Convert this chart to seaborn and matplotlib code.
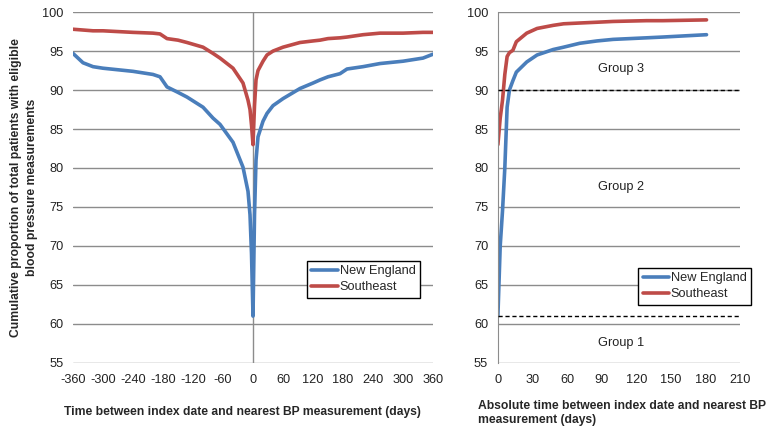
import pandas as pd
import matplotlib.pyplot as plt
import seaborn as sns

# Left panel: signed days vs cumulative proportion
signed_days = [-360, -340, -320, -300, -240, -200, -186, -172, -150, -132, -100, -80,
               -66, -40, -20, -10, -6, -3, 0, 3, 6, 10, 20, 28, 40, 60, 94, 120, 134,
               150, 174, 188, 220, 254, 300, 340, 360]
ne_signed = [94.7, 93.5, 93.0, 92.8, 92.4, 92.0, 91.7, 90.4, 89.7, 89.1, 87.8, 86.4,
             85.6, 83.3, 80.1, 77.0, 74.0, 69.0, 61.0, 74.0, 81.0, 84.0, 86.0, 87.0,
             88.0, 88.9, 90.2, 90.9, 91.3, 91.7, 92.1, 92.7, 93.0, 93.4, 93.7, 94.1, 94.6]
se_signed = [97.8, 97.7, 97.6, 97.6, 97.4, 97.3, 97.2, 96.6, 96.4, 96.1, 95.5, 94.7,
             94.1, 92.8, 90.9, 88.7, 87.5, 85.5, 83.0, 88.0, 91.3, 92.5, 93.7, 94.5,
             95.0, 95.5, 96.1, 96.3, 96.4, 96.6, 96.7, 96.8, 97.1, 97.3, 97.3, 97.4, 97.4]

# Right panel: absolute days vs cumulative proportion
abs_days = [0, 2, 4, 6, 8, 10, 13, 16, 25, 34, 48, 57, 71, 86, 100, 129, 143, 181]
ne_abs = [61.0, 70.0, 74.5, 80.0, 87.8, 90.0, 91.2, 92.3, 93.6, 94.5, 95.2, 95.5,
          96.0, 96.3, 96.5, 96.7, 96.8, 97.1]
se_abs = [83.0, 86.4, 88.7, 92.0, 94.3, 94.8, 95.1, 96.2, 97.3, 97.9, 98.3, 98.5,
          98.6, 98.7, 98.8, 98.9, 98.9, 99.0]

regions = ["New England", "Southeast"]
colors = {"New England": "#4a7ebb", "Southeast": "#be4b48"}

group_cutoffs = [90, 61]
group_labels = ["Group 3", "Group 2", "Group 1"]
group_label_y = [92.7, 77.6, 57.6]

left_df = pd.concat([
    pd.DataFrame({"days": signed_days, "pct": ne_signed, "Region": regions[0]}),
    pd.DataFrame({"days": signed_days, "pct": se_signed, "Region": regions[1]}),
])
right_df = pd.concat([
    pd.DataFrame({"days": abs_days, "pct": ne_abs, "Region": regions[0]}),
    pd.DataFrame({"days": abs_days, "pct": se_abs, "Region": regions[1]}),
])

sns.set_style("white")
plt.rcParams["font.family"] = ["Liberation Sans", "DejaVu Sans"]
plt.rcParams["axes.unicode_minus"] = False

fig = plt.figure(figsize=(7.66, 4.32), dpi=100)
ax1 = fig.add_axes([0.0953, 0.160, 0.470, 0.812])
ax2 = fig.add_axes([0.650, 0.160, 0.316, 0.812])

grid_col = "#8c8c8c"
txt_col = "#222222"
leg_kw = dict(loc="upper left", frameon=True, fancybox=False, edgecolor="black",
              fontsize=9.2, handlelength=2.1, handletextpad=0.1, borderpad=0.35,
              labelspacing=0.3, borderaxespad=0)

# ---- Left panel ----
sns.lineplot(data=left_df, x="days", y="pct", hue="Region", palette=colors,
             linewidth=2.6, sort=False, ax=ax1)
ax1.set_xlim(-360, 360)
ax1.set_ylim(55, 100)
ax1.set_xticks(range(-360, 361, 60))
ax1.set_yticks(range(55, 101, 5))
ax1.axvline(0, color=grid_col, lw=1, zorder=1)
for v in range(55, 101, 5):
    ax1.axhline(v, color=grid_col, lw=1, zorder=0)
for s in ax1.spines.values():
    s.set_visible(False)
ax1.tick_params(axis="both", labelsize=9.2, length=0, colors=txt_col)
ax1.tick_params(axis="x", pad=8)
ax1.tick_params(axis="y", pad=7)
ax1.set_xlabel("Time between index date and nearest BP measurement (days)",
               fontsize=8.7, fontweight="bold")
ax1.xaxis.set_label_coords(0.472, -0.14)
ax1.xaxis.label.set_verticalalignment("center")
ax1.set_ylabel("Cumulative proportion of total patients with eligible\nblood pressure measurements",
               fontsize=8.7, fontweight="bold", labelpad=3, linespacing=1.45)
leg1 = ax1.legend(bbox_to_anchor=(0.65, 0.291), **leg_kw)
leg1.get_frame().set_linewidth(1.0)
leg1.get_frame().set_alpha(1)

# ---- Right panel ----
sns.lineplot(data=right_df, x="days", y="pct", hue="Region", palette=colors,
             linewidth=2.6, ax=ax2)
ax2.set_xlim(0, 210)
ax2.set_ylim(55, 100)
ax2.set_xticks(range(0, 211, 30))
ax2.set_yticks(range(55, 101, 5))
for v in range(55, 101, 5):
    ax2.axhline(v, color=grid_col, lw=1, zorder=0)
for name, s in ax2.spines.items():
    s.set_visible(name == "left")
ax2.spines["left"].set_color(grid_col)
ax2.tick_params(axis="both", labelsize=9.2, length=0, colors=txt_col)
ax2.tick_params(axis="x", pad=8)
ax2.tick_params(axis="y", pad=7)
for c in group_cutoffs:
    ax2.axhline(c, color="black", lw=1, ls=(0, (3, 2)), zorder=3)
for lbl, y in zip(group_labels, group_label_y):
    ax2.text(107, y, lbl, ha="center", va="center", fontsize=9.2, color=txt_col)
ax2.set_xlabel("Absolute time between index date and nearest BP\nmeasurement (days)",
               fontsize=8.7, fontweight="bold", linespacing=1.3)
ax2.xaxis.set_label_coords(-0.083, -0.105)
ax2.xaxis.label.set_horizontalalignment("left")
ax2.xaxis.label.set_verticalalignment("top")
ax2.set_ylabel("")
leg2 = ax2.legend(bbox_to_anchor=(0.579, 0.271), **leg_kw)
leg2.get_frame().set_linewidth(1.0)
leg2.get_frame().set_alpha(1)

fig.savefig("out.png", dpi=100)
